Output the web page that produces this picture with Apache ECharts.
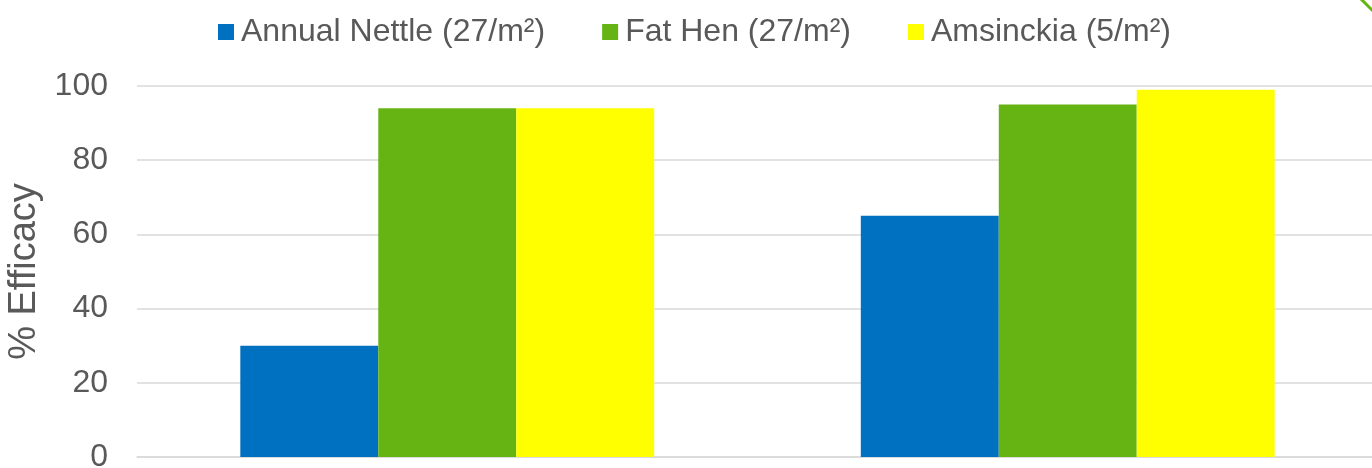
<!DOCTYPE html>
<html style="height: 100%">
    <head>
        <meta charset="utf-8">
        <script src="https://cdn.jsdelivr.net/npm/echarts@6/dist/echarts.min.js"></script>
    </head>
    <body style="height: 100%; margin: 0; background-color: #ffffff; overflow: hidden">
        <div id="container" style="width: 1372px; height: 468px"></div>
        <script type="text/javascript">
        // data
        var categories = ['Treatment A', 'Treatment B'];
        var seriesNames = ['Annual Nettle (27/m²)', 'Fat Hen (27/m²)', 'Amsinckia (5/m²)'];
        var nettle = [30, 65];
        var fatHen = [94, 95];
        var amsinckia = [94, 99];
        var yTicks = [0, 20, 40, 60, 80, 100];

        var colors = ['#0070C0', '#66B414', '#FFFF00'];
        var values = [nettle, fatHen, amsinckia];
        var font = '"Liberation Sans", Arial, sans-serif';

        var chart = echarts.init(document.getElementById('container'));
        var option = {
            animation: false,
            color: colors,
            textStyle: { fontFamily: font },
            legend: {
                left: 213,
                top: 11,
                itemWidth: 16,
                itemHeight: 16,
                itemGap: 57,
                icon: 'rect',
                textStyle: { fontSize: 32, color: '#595959', fontFamily: font, padding: [0, 0, 0, 2] },
                data: seriesNames
            },
            grid: {
                left: 137,
                top: 86,
                height: 371,
                width: 1241,
                containLabel: false,
                outerBoundsMode: 'none'
            },
            xAxis: {
                type: 'category',
                data: categories,
                axisLine: { lineStyle: { color: '#d9d9d9', width: 1.5 } },
                axisTick: { show: false },
                axisLabel: { show: false }
            },
            yAxis: {
                type: 'value',
                min: yTicks[0],
                max: yTicks[yTicks.length - 1],
                interval: 20,
                name: '% Efficacy',
                nameLocation: 'middle',
                nameGap: 90,
                nameTextStyle: { fontSize: 38, color: '#595959', fontFamily: font },
                axisLabel: { fontSize: 32, color: '#595959', margin: 29, fontFamily: font },
                splitLine: { lineStyle: { color: '#d9d9d9', width: 1.5 } },
                axisLine: { show: false },
                axisTick: { show: false }
            },
            series: seriesNames.map(function (name, i) {
                return {
                    name: name,
                    type: 'bar',
                    data: values[i],
                    barGap: 0,
                    barCategoryGap: '33.3%'
                };
            }),
            graphic: [{
                type: 'line',
                shape: { x1: 1360, y1: -2, x2: 1374, y2: 12 },
                style: { stroke: '#66B414', lineWidth: 3 }
            }]
        };
        chart.setOption(option);
        </script>
    </body>
</html>
